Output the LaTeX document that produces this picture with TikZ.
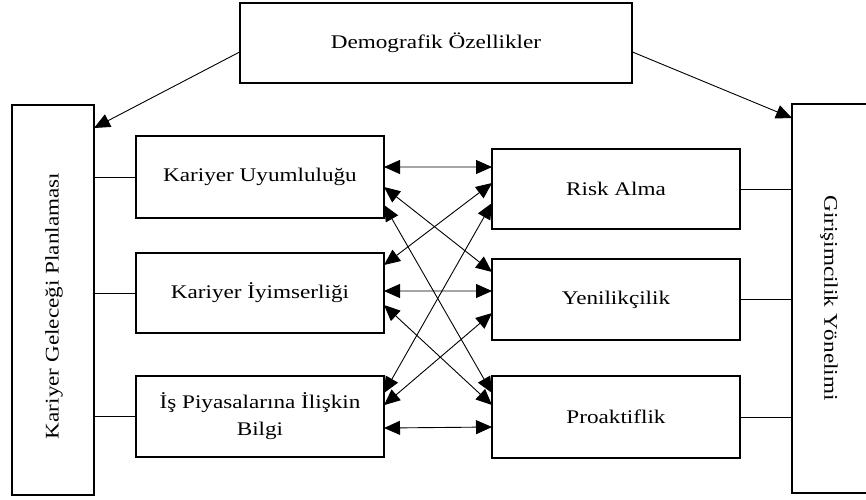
\documentclass[tikz,border=0pt]{standalone}
\usepackage{fontspec}
\setmainfont{Liberation Serif}
\usetikzlibrary{arrows.meta,calc}
\newcommand\hwide[1]{\scalebox{1.2}[1]{#1}}
\begin{document}
\begin{tikzpicture}[x=1pt,y=-1pt,
  box/.style={draw,line width=1.6pt,rectangle,inner sep=0pt,outer sep=0pt,
    font=\fontsize{19.3}{27}\selectfont,align=center},
  lbl/.style={font=\fontsize{19.3}{27}\selectfont,inner sep=0pt},
  conn/.style={line width=0.9pt},
  tipa/.tip={Triangle[length=16pt,width=14pt]},
  biarrow/.style={conn,tipa-tipa},
  onearrow/.style={conn,-tipa}]
\useasboundingbox (0,0) rectangle (866,499);
% boxes
\node[box,minimum width=392pt,minimum height=80pt] (D) at (436,43) {\hwide{Demografik Özellikler}};
\node[box,minimum width=82pt,minimum height=390pt] (L) at (53,300) {};
\node[box,minimum width=78pt,minimum height=389pt] (R) at (831,298.5) {};
\node[lbl,rotate=90] (Lt) at (54,306) {\hwide{Kariyer Geleceği Planlaması}};
\node[lbl,rotate=-90] (Rt) at (829,298) {\hwide{Girişimcilik Yönelimi}};
\node[box,minimum width=248pt,minimum height=82pt] (KU) at (260,177) {\hwide{Kariyer Uyumluluğu}};
\node[box,minimum width=248pt,minimum height=80pt] (KI) at (260,293) {\hwide{Kariyer İyimserliği}};
\node[box,minimum width=248pt,minimum height=81pt] (IP) at (260,416.5) {\hwide{İş Piyasalarına İlişkin}\\\hwide{Bilgi}};
\node[box,minimum width=248pt,minimum height=80pt] (RA) at (616,189) {\hwide{Risk Alma}};
\node[box,minimum width=248pt,minimum height=81pt] (YE) at (616,299.5) {\hwide{Yenilikçilik}};
\node[box,minimum width=248pt,minimum height=82pt] (PR) at (616,417) {\hwide{Proaktiflik}};
% side connectors
\draw[conn] (KU.west) -- (KU.west -| L.east);
\draw[conn] (KI.west) -- (KI.west -| L.east);
\draw[conn] (IP.west) -- (IP.west -| L.east);
\draw[conn] (RA.east) -- (RA.east -| R.west);
\draw[conn] (YE.east) -- (YE.east -| R.west);
\draw[conn] (PR.east) -- (PR.east -| R.west);
% demographic arrows
\draw[onearrow] ($(D.north west)!0.61!(D.south west)$) -- ($(L.north east)!0.059!(L.south east)$);
\draw[onearrow] ($(D.north east)!0.61!(D.south east)$) -- ($(R.north west)!0.036!(R.south west)$);
% cross arrows
\draw[biarrow] ($(KU.north east)!0.378!(KU.south east)$) -- ($(RA.north west)!0.225!(RA.south west)$);
\draw[biarrow] ($(KU.north east)!0.622!(KU.south east)$) -- ($(YE.north west)!0.16!(YE.south west)$);
\draw[biarrow] ($(KU.north east)!0.841!(KU.south east)$) -- ($(PR.north west)!0.207!(PR.south west)$);
\draw[biarrow] ($(KI.north east)!0.15!(KI.south east)$) -- ($(RA.north west)!0.425!(RA.south west)$);
\draw[biarrow] ($(KI.north east)!0.475!(KI.south east)$) -- ($(YE.north west)!0.395!(YE.south west)$);
\draw[biarrow] ($(KI.north east)!0.65!(KI.south east)$) -- ($(PR.north west)!0.354!(PR.south west)$);
\draw[biarrow] ($(IP.north east)!0.21!(IP.south east)$) -- ($(RA.north west)!0.675!(RA.south west)$);
\draw[biarrow] ($(IP.north east)!0.36!(IP.south east)$) -- ($(YE.north west)!0.667!(YE.south west)$);
\draw[biarrow] ($(IP.north east)!0.642!(IP.south east)$) -- ($(PR.north west)!0.622!(PR.south west)$);
\end{tikzpicture}
\end{document}
